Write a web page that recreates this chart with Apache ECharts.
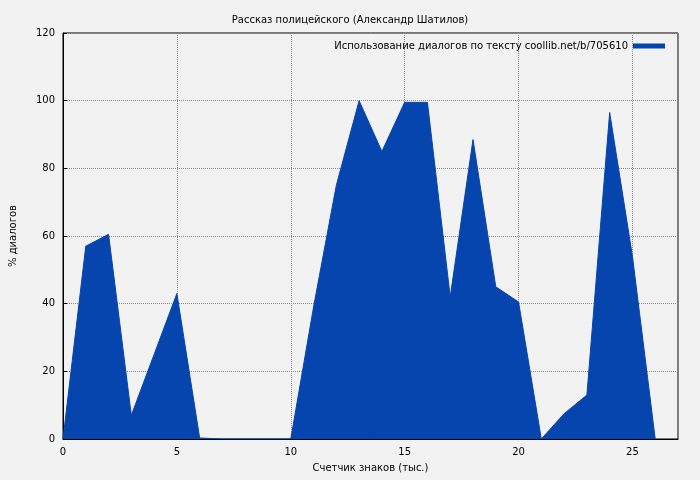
<!DOCTYPE html>
<html>
<head>
<meta charset="utf-8">
<title>Рассказ полицейского</title>
<script src="https://cdn.jsdelivr.net/npm/echarts@6/dist/echarts.min.js"></script>
<style>html,body{margin:0;background:#f2f2f2}#chart{width:700px;height:480px}</style>
</head>
<body>
<div id="chart"></div>
<script>
var xs = [0,1,2,3,4,5,6,7,8,9,10,11,12,13,14,15,16,17,18,19,20,21,22,23,24,25,26];
var dialog = [0,57,60.5,7,25,43,0.3,0,0,0,0,39,75,100,85,99.5,99.5,42,88.5,45,40.5,0,7.5,13,96.5,54,0];
var seriesName = 'Использование диалогов по тексту coollib.net/b/705610';

var pts = xs.map(function(x, i){ return [x, dialog[i]]; });
var app = echarts.init(document.getElementById('chart'));
var font = 'DejaVu Sans';
app.setOption({
    backgroundColor: '#f2f2f2',
    textStyle: {fontFamily: font},
    title: {
        text: 'Рассказ полицейского (Александр Шатилов)',
        left: 'center', top: 10,
        textStyle: {fontSize: 10, fontWeight: 'normal', color: '#000', fontFamily: font}
    },
    legend: {
        right: 30, top: 36, itemWidth: 32, itemHeight: 5, itemGap: 6,
        align: 'right',
        icon: 'rect',
        textStyle: {fontSize: 10, color: '#000', fontFamily: font},
        data: [seriesName]
    },
    grid: {left: 60, right: 22, top: 33, bottom: 41, show: true, borderColor: '#000', borderWidth: 1, backgroundColor: 'transparent'},
    xAxis: {
        type: 'value', min: 0, max: 27, interval: 5,
        name: 'Счетчик знаков (тыс.)', nameLocation: 'middle', nameGap: 24,
        nameTextStyle: {fontSize: 10, color: '#000'},
        axisLine: {lineStyle: {color: '#000'}},
        axisTick: {inside: true, length: 4},
        axisLabel: {fontSize: 10, color: '#000', showMaxLabel: false},
        splitLine: {lineStyle: {color: '#888', type: 'dotted'}}
    },
    yAxis: {
        type: 'value', min: 0, max: 120, interval: 20,
        name: '% диалогов', nameLocation: 'middle', nameGap: 45,
        nameTextStyle: {fontSize: 10, color: '#000'},
        axisLine: {show: true, lineStyle: {color: '#000'}},
        axisTick: {show: true, inside: true, length: 4},
        axisLabel: {fontSize: 10, color: '#000'},
        splitLine: {lineStyle: {color: '#888', type: 'dotted'}}
    },
    series: [{
        name: seriesName,
        type: 'line',
        data: pts,
        symbol: 'none',
        color: '#0645ad',
        lineStyle: {width: 1, color: '#0645ad'},
        areaStyle: {color: '#0645ad', opacity: 1}
    }]
});
</script>
</body>
</html>
